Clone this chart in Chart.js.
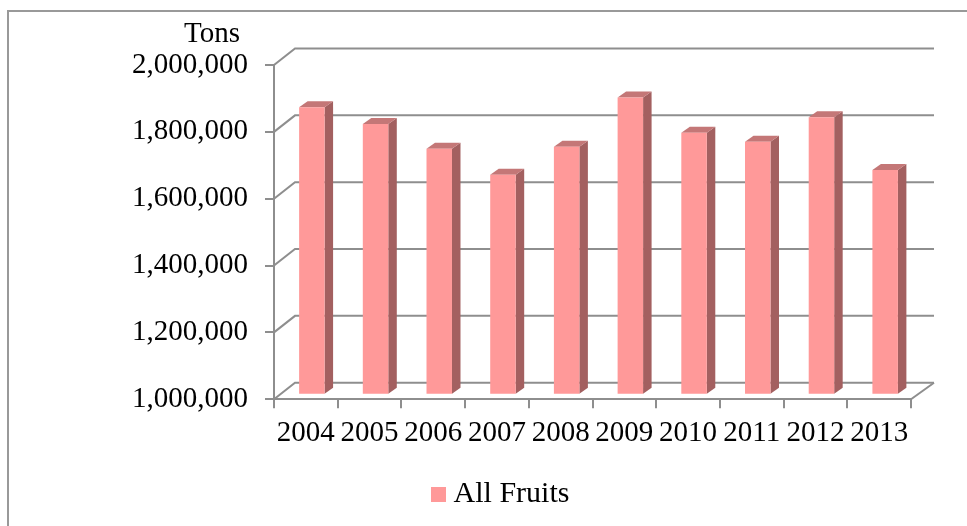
<!DOCTYPE html>
<html>
<head>
<meta charset="utf-8">
<title>All Fruits</title>
<script src="https://cdn.jsdelivr.net/npm/chart.js@4"></script>
<style>
    html, body { margin: 0; padding: 0; background: #fff; overflow: hidden; }
    canvas { display: block; }
</style>
</head>
<body>
<canvas id="fruits" width="967" height="526"></canvas>
<script>
years = ['2004', '2005', '2006', '2007', '2008', '2009', '2010', '2011', '2012', '2013'];
tons = [1860000, 1810000, 1736000, 1658000, 1742000, 1889000, 1784000, 1757000, 1830000, 1672000];
wall_ticks = [1000000, 1200000, 1400000, 1600000, 1800000, 2000000];
BASE_TONS = 1000000;

GRAY = '#8e8e8e';
PINK = '#ff9999';
FONT = 'Liberation Serif';
// how far the back wall sits behind the front of the axes
WALL_X = 21;
WALL_Y = 16.5;
// bars stand part way along the floor, and have this much depth
BAR_SHIFT_X = 6;
BAR_SHIFT_Y = 4.5;
DEPTH_X = 8.5;
DEPTH_Y = 6;

// legend swatch as an image, the normal box leaves too wide a gap before the text
swatch = document.createElement('canvas');
swatch.width = 15;
swatch.height = 15;
swatch.getContext('2d').fillStyle = PINK;
swatch.getContext('2d').fillRect(0, 0, 15, 15);

// frame, walls and bar sides are not something Chart.js has, so they go in here
const depthPlugin = {
    id: 'depth',
    beforeDraw(chart) {
        const ctx = chart.ctx;
        ctx.save();
        ctx.fillStyle = '#fff';
        ctx.fillRect(0, 0, chart.width, chart.height);
        ctx.strokeStyle = '#999';
        ctx.lineWidth = 2;
        ctx.strokeRect(8, 11, 1000, 1000);
        ctx.fillStyle = '#000';
        ctx.font = '29px "' + FONT + '"';
        ctx.textAlign = 'left';
        ctx.textBaseline = 'alphabetic';
        ctx.fillText('Tons', 184, 42);
        ctx.restore();
    },
    beforeDatasetsDraw(chart) {
        const ctx = chart.ctx;
        const { left, right, bottom } = chart.chartArea;
        const y = chart.scales.y;

        ctx.save();
        ctx.strokeStyle = GRAY;
        ctx.lineWidth = 2;
        wall_ticks.forEach(v => {
            const py = y.getPixelForValue(v);
            ctx.beginPath();
            ctx.moveTo(left, py);
            ctx.lineTo(left + WALL_X, py - WALL_Y);
            ctx.lineTo(right + WALL_X + 2, py - WALL_Y);
            ctx.stroke();
        });
        // right edge of the floor
        ctx.beginPath();
        ctx.moveTo(right, bottom);
        ctx.lineTo(right + WALL_X + 2, bottom - WALL_Y);
        ctx.stroke();
        ctx.restore();

        // left open until afterDatasetsDraw so the bars get the same shift
        ctx.save();
        ctx.translate(BAR_SHIFT_X, -BAR_SHIFT_Y);
        chart.getDatasetMeta(0).data.forEach(bar => {
            const l = bar.x - bar.width / 2;
            const r = bar.x + bar.width / 2;

            ctx.fillStyle = '#a36060';
            ctx.beginPath();
            ctx.moveTo(r, bar.y);
            ctx.lineTo(r + DEPTH_X, bar.y - DEPTH_Y);
            ctx.lineTo(r + DEPTH_X, bar.base - DEPTH_Y);
            ctx.lineTo(r, bar.base);
            ctx.closePath();
            ctx.fill();

            ctx.fillStyle = '#c47777';
            ctx.beginPath();
            ctx.moveTo(l, bar.y);
            ctx.lineTo(l + DEPTH_X, bar.y - DEPTH_Y);
            ctx.lineTo(r + DEPTH_X, bar.y - DEPTH_Y);
            ctx.lineTo(r, bar.y);
            ctx.closePath();
            ctx.fill();
        });
    },
    afterDatasetsDraw(chart) {
        chart.ctx.restore();
    }
};

new Chart(document.getElementById('fruits'), {
    type: 'bar',
    plugins: [depthPlugin],
    data: {
        labels: years,
        datasets: [{
            label: 'All Fruits',
            data: tons,
            base: BASE_TONS,
            backgroundColor: PINK,
            borderWidth: 0,
            barPercentage: 0.4,
            categoryPercentage: 1,
            clip: false
        }]
    },
    options: {
        responsive: false,
        animation: false,
        layout: {
            padding: { left: 96, right: 56, top: 65, bottom: 7 }
        },
        font: { family: FONT },
        scales: {
            x: {
                afterFit: (axis) => {
                    axis.height += 14;
                },
                grid: {
                    drawOnChartArea: false,
                    color: GRAY,
                    lineWidth: 2,
                    tickLength: 9
                },
                border: { color: GRAY, width: 2 },
                ticks: {
                    color: '#000',
                    padding: 8,
                    maxRotation: 0,
                    autoSkip: false,
                    font: { family: FONT, size: 29 }
                }
            },
            y: {
                min: BASE_TONS,
                max: 2000000,
                afterFit: (axis) => {
                    axis.width = 178;
                },
                grid: {
                    drawOnChartArea: false,
                    color: GRAY,
                    lineWidth: 2,
                    tickLength: 9
                },
                border: { color: GRAY, width: 2 },
                ticks: {
                    color: '#000',
                    padding: 17,
                    stepSize: 200000,
                    font: { family: FONT, size: 29 },
                    callback: v => v.toLocaleString('en-US')
                }
            }
        },
        plugins: {
            tooltip: { enabled: false },
            legend: {
                position: 'bottom',
                labels: {
                    color: '#000',
                    usePointStyle: true,
                    pointStyle: swatch,
                    pointStyleWidth: 1,
                    boxHeight: 15,
                    padding: 6,
                    font: { family: FONT, size: 30 }
                }
            }
        }
    }
});
</script>
</body>
</html>
